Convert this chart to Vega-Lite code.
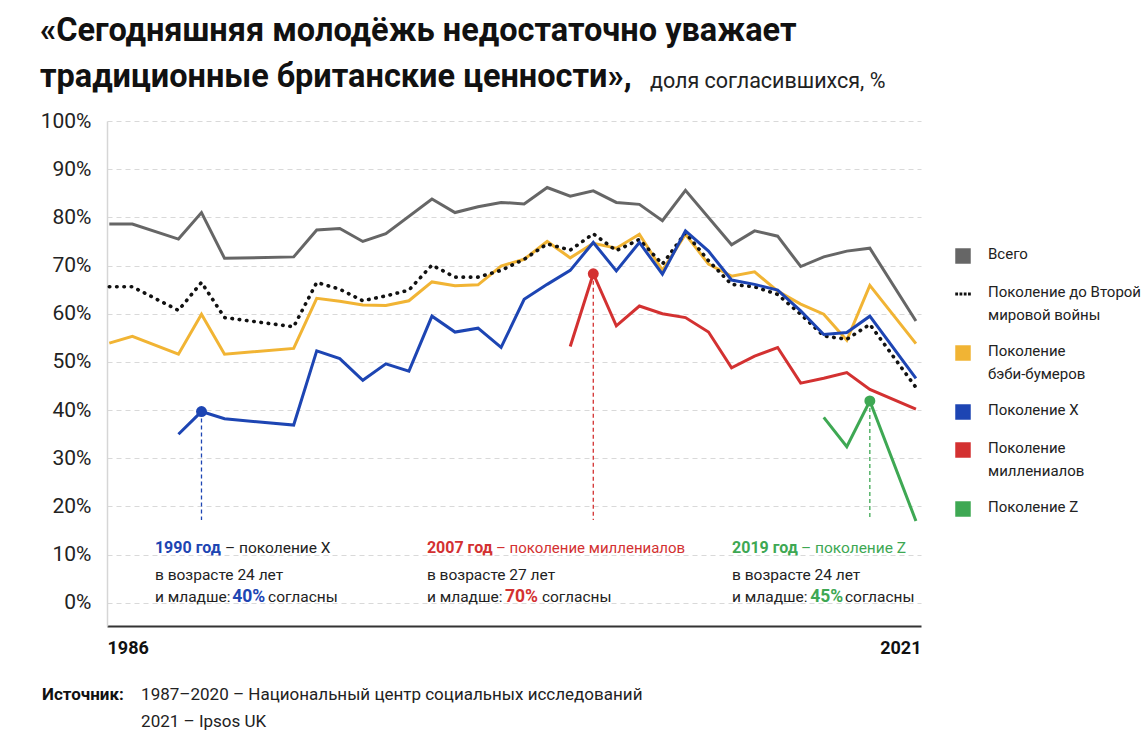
{
  "$schema": "https://vega.github.io/schema/vega-lite/v6.json",
  "width": 814,
  "height": 505,
  "autosize": "none",
  "padding": {"left": 107, "top": 121, "right": 225, "bottom": 129},
  "background": "#ffffff",
  "config": {"view": {"stroke": null}, "font": "Roboto"},
  "title": {
    "text": ["«Сегодняшняя молодёжь недостаточно уважает", "традиционные британские ценности»,"],
    "anchor": "start", "frame": "group",
    "font": "Roboto",
    "fontSize": 32.5, "fontWeight": "bold", "color": "#111111",
    "lineHeight": 46, "dx": -67, "dy": 40, "offset": 17
  },
  "datasets": {
    "series": [
      {"series": "Всего", "year": 1986, "value": 78.6},
      {"series": "Всего", "year": 1987, "value": 78.6},
      {"series": "Всего", "year": 1989, "value": 75.5},
      {"series": "Всего", "year": 1990, "value": 81.0},
      {"series": "Всего", "year": 1991, "value": 71.5},
      {"series": "Всего", "year": 1994, "value": 71.8},
      {"series": "Всего", "year": 1995, "value": 77.4},
      {"series": "Всего", "year": 1996, "value": 77.7},
      {"series": "Всего", "year": 1997, "value": 75.0},
      {"series": "Всего", "year": 1998, "value": 76.6},
      {"series": "Всего", "year": 2000, "value": 83.8},
      {"series": "Всего", "year": 2001, "value": 81.0},
      {"series": "Всего", "year": 2002, "value": 82.2},
      {"series": "Всего", "year": 2003, "value": 83.1},
      {"series": "Всего", "year": 2004, "value": 82.8},
      {"series": "Всего", "year": 2005, "value": 86.2},
      {"series": "Всего", "year": 2006, "value": 84.4},
      {"series": "Всего", "year": 2007, "value": 85.5},
      {"series": "Всего", "year": 2008, "value": 83.1},
      {"series": "Всего", "year": 2009, "value": 82.7},
      {"series": "Всего", "year": 2010, "value": 79.3},
      {"series": "Всего", "year": 2011, "value": 85.6},
      {"series": "Всего", "year": 2013, "value": 74.3},
      {"series": "Всего", "year": 2014, "value": 77.2},
      {"series": "Всего", "year": 2015, "value": 76.1},
      {"series": "Всего", "year": 2016, "value": 69.8},
      {"series": "Всего", "year": 2017, "value": 71.8},
      {"series": "Всего", "year": 2018, "value": 73.0},
      {"series": "Всего", "year": 2019, "value": 73.6},
      {"series": "Всего", "year": 2021, "value": 58.5},

      {"series": "Поколение до Второй мировой войны", "year": 1986, "value": 65.6},
      {"series": "Поколение до Второй мировой войны", "year": 1987, "value": 65.6},
      {"series": "Поколение до Второй мировой войны", "year": 1989, "value": 60.7},
      {"series": "Поколение до Второй мировой войны", "year": 1990, "value": 66.5},
      {"series": "Поколение до Второй мировой войны", "year": 1991, "value": 59.2},
      {"series": "Поколение до Второй мировой войны", "year": 1994, "value": 57.3},
      {"series": "Поколение до Второй мировой войны", "year": 1995, "value": 66.5},
      {"series": "Поколение до Второй мировой войны", "year": 1996, "value": 65.1},
      {"series": "Поколение до Второй мировой войны", "year": 1997, "value": 62.7},
      {"series": "Поколение до Второй мировой войны", "year": 1998, "value": 63.7},
      {"series": "Поколение до Второй мировой войны", "year": 1999, "value": 64.9},
      {"series": "Поколение до Второй мировой войны", "year": 2000, "value": 70.1},
      {"series": "Поколение до Второй мировой войны", "year": 2001, "value": 67.6},
      {"series": "Поколение до Второй мировой войны", "year": 2002, "value": 67.6},
      {"series": "Поколение до Второй мировой войны", "year": 2003, "value": 69.0},
      {"series": "Поколение до Второй мировой войны", "year": 2004, "value": 71.3},
      {"series": "Поколение до Второй мировой войны", "year": 2005, "value": 74.5},
      {"series": "Поколение до Второй мировой войны", "year": 2006, "value": 73.2},
      {"series": "Поколение до Второй мировой войны", "year": 2007, "value": 76.6},
      {"series": "Поколение до Второй мировой войны", "year": 2008, "value": 73.1},
      {"series": "Поколение до Второй мировой войны", "year": 2009, "value": 75.4},
      {"series": "Поколение до Второй мировой войны", "year": 2010, "value": 70.3},
      {"series": "Поколение до Второй мировой войны", "year": 2011, "value": 76.8},
      {"series": "Поколение до Второй мировой войны", "year": 2012, "value": 71.0},
      {"series": "Поколение до Второй мировой войны", "year": 2013, "value": 66.1},
      {"series": "Поколение до Второй мировой войны", "year": 2014, "value": 65.6},
      {"series": "Поколение до Второй мировой войны", "year": 2015, "value": 64.0},
      {"series": "Поколение до Второй мировой войны", "year": 2016, "value": 59.9},
      {"series": "Поколение до Второй мировой войны", "year": 2017, "value": 55.4},
      {"series": "Поколение до Второй мировой войны", "year": 2018, "value": 54.7},
      {"series": "Поколение до Второй мировой войны", "year": 2019, "value": 57.8},
      {"series": "Поколение до Второй мировой войны", "year": 2021, "value": 44.7},

      {"series": "Поколение бэби-бумеров", "year": 1986, "value": 53.9},
      {"series": "Поколение бэби-бумеров", "year": 1987, "value": 55.3},
      {"series": "Поколение бэби-бумеров", "year": 1989, "value": 51.6},
      {"series": "Поколение бэби-бумеров", "year": 1990, "value": 59.9},
      {"series": "Поколение бэби-бумеров", "year": 1991, "value": 51.6},
      {"series": "Поколение бэби-бумеров", "year": 1994, "value": 52.8},
      {"series": "Поколение бэби-бумеров", "year": 1995, "value": 63.2},
      {"series": "Поколение бэби-бумеров", "year": 1996, "value": 62.6},
      {"series": "Поколение бэби-бумеров", "year": 1997, "value": 61.8},
      {"series": "Поколение бэби-бумеров", "year": 1998, "value": 61.7},
      {"series": "Поколение бэби-бумеров", "year": 1999, "value": 62.7},
      {"series": "Поколение бэби-бумеров", "year": 2000, "value": 66.6},
      {"series": "Поколение бэби-бумеров", "year": 2001, "value": 65.8},
      {"series": "Поколение бэби-бумеров", "year": 2002, "value": 66.0},
      {"series": "Поколение бэби-бумеров", "year": 2003, "value": 69.9},
      {"series": "Поколение бэби-бумеров", "year": 2004, "value": 71.3},
      {"series": "Поколение бэби-бумеров", "year": 2005, "value": 75.0},
      {"series": "Поколение бэби-бумеров", "year": 2006, "value": 71.6},
      {"series": "Поколение бэби-бумеров", "year": 2007, "value": 74.6},
      {"series": "Поколение бэби-бумеров", "year": 2008, "value": 73.6},
      {"series": "Поколение бэби-бумеров", "year": 2009, "value": 76.5},
      {"series": "Поколение бэби-бумеров", "year": 2010, "value": 69.0},
      {"series": "Поколение бэби-бумеров", "year": 2011, "value": 76.5},
      {"series": "Поколение бэби-бумеров", "year": 2012, "value": 70.3},
      {"series": "Поколение бэби-бумеров", "year": 2013, "value": 67.8},
      {"series": "Поколение бэби-бумеров", "year": 2014, "value": 68.7},
      {"series": "Поколение бэби-бумеров", "year": 2015, "value": 64.7},
      {"series": "Поколение бэби-бумеров", "year": 2016, "value": 62.0},
      {"series": "Поколение бэби-бумеров", "year": 2017, "value": 59.9},
      {"series": "Поколение бэби-бумеров", "year": 2018, "value": 54.5},
      {"series": "Поколение бэби-бумеров", "year": 2019, "value": 65.9},
      {"series": "Поколение бэби-бумеров", "year": 2021, "value": 53.8},

      {"series": "Поколение X", "year": 1989, "value": 35.0},
      {"series": "Поколение X", "year": 1990, "value": 39.7},
      {"series": "Поколение X", "year": 1991, "value": 38.2},
      {"series": "Поколение X", "year": 1994, "value": 36.9},
      {"series": "Поколение X", "year": 1995, "value": 52.3},
      {"series": "Поколение X", "year": 1996, "value": 50.7},
      {"series": "Поколение X", "year": 1997, "value": 46.2},
      {"series": "Поколение X", "year": 1998, "value": 49.6},
      {"series": "Поколение X", "year": 1999, "value": 48.1},
      {"series": "Поколение X", "year": 2000, "value": 59.5},
      {"series": "Поколение X", "year": 2001, "value": 56.2},
      {"series": "Поколение X", "year": 2002, "value": 57.0},
      {"series": "Поколение X", "year": 2003, "value": 53.0},
      {"series": "Поколение X", "year": 2004, "value": 63.0},
      {"series": "Поколение X", "year": 2005, "value": 66.1},
      {"series": "Поколение X", "year": 2006, "value": 69.0},
      {"series": "Поколение X", "year": 2007, "value": 74.8},
      {"series": "Поколение X", "year": 2008, "value": 68.9},
      {"series": "Поколение X", "year": 2009, "value": 74.8},
      {"series": "Поколение X", "year": 2010, "value": 68.2},
      {"series": "Поколение X", "year": 2011, "value": 77.2},
      {"series": "Поколение X", "year": 2012, "value": 73.0},
      {"series": "Поколение X", "year": 2013, "value": 67.0},
      {"series": "Поколение X", "year": 2014, "value": 66.1},
      {"series": "Поколение X", "year": 2015, "value": 64.9},
      {"series": "Поколение X", "year": 2016, "value": 60.6},
      {"series": "Поколение X", "year": 2017, "value": 55.7},
      {"series": "Поколение X", "year": 2018, "value": 56.1},
      {"series": "Поколение X", "year": 2019, "value": 59.5},
      {"series": "Поколение X", "year": 2021, "value": 46.6},

      {"series": "Поколение миллениалов", "year": 2006, "value": 53.2},
      {"series": "Поколение миллениалов", "year": 2007, "value": 68.3},
      {"series": "Поколение миллениалов", "year": 2008, "value": 57.5},
      {"series": "Поколение миллениалов", "year": 2009, "value": 61.6},
      {"series": "Поколение миллениалов", "year": 2010, "value": 60.0},
      {"series": "Поколение миллениалов", "year": 2011, "value": 59.2},
      {"series": "Поколение миллениалов", "year": 2012, "value": 56.2},
      {"series": "Поколение миллениалов", "year": 2013, "value": 48.8},
      {"series": "Поколение миллениалов", "year": 2014, "value": 51.2},
      {"series": "Поколение миллениалов", "year": 2015, "value": 53.0},
      {"series": "Поколение миллениалов", "year": 2016, "value": 45.6},
      {"series": "Поколение миллениалов", "year": 2017, "value": 46.6},
      {"series": "Поколение миллениалов", "year": 2018, "value": 47.8},
      {"series": "Поколение миллениалов", "year": 2019, "value": 44.3},
      {"series": "Поколение миллениалов", "year": 2021, "value": 40.2},

      {"series": "Поколение Z", "year": 2017, "value": 38.5},
      {"series": "Поколение Z", "year": 2018, "value": 32.4},
      {"series": "Поколение Z", "year": 2019, "value": 41.9},
      {"series": "Поколение Z", "year": 2021, "value": 17.0}
    ],
    "markers": [
      {"series": "Поколение X", "year": 1990, "value": 39.7},
      {"series": "Поколение миллениалов", "year": 2007, "value": 68.3},
      {"series": "Поколение Z", "year": 2019, "value": 41.9}
    ]
  },
  "data": {"name": "series"},
  "layer": [
    {
      "encoding": {
        "x": {
          "field": "year", "type": "quantitative",
          "scale": {"domain": [1985.9, 2021.22], "nice": false, "zero": false},
          "axis": {
            "title": null, "values": [1985.9, 2021.22],
            "labelExpr": "datum.value < 2000 ? '1986' : '2021'",
            "labelFlush": true, "grid": false, "ticks": false,
            "domainColor": "#333333", "domainWidth": 2,
            "labelFont": "Roboto",
            "labelFontSize": 18, "labelFontWeight": "bold", "labelColor": "#111111", "labelPadding": 13
          }
        },
        "y": {
          "field": "value", "type": "quantitative",
          "scale": {"domain": [-4.8, 100], "nice": false, "zero": false},
          "axis": {
            "title": null, "values": [0, 10, 20, 30, 40, 50, 60, 70, 80, 90, 100],
            "labelExpr": "datum.value + '%'",
            "grid": true, "gridDash": [5, 4], "gridColor": "#d9d9d9", "gridWidth": 1,
            "domain": true, "domainColor": "#d6d6d6", "domainWidth": 1.5,
            "ticks": false,
            "labelFont": "Roboto",
            "labelFontSize": 21, "labelColor": "#222222", "labelPadding": 16
          }
        }
      },
      "layer": [
        {
          "transform": [{"filter": "datum.series === 'Всего'"}],
          "mark": {"type": "line", "strokeWidth": 3},
          "encoding": {
            "color": {
              "field": "series", "type": "nominal",
              "scale": {
                "domain": ["Всего", "Поколение до Второй мировой войны", "Поколение бэби-бумеров", "Поколение X", "Поколение миллениалов", "Поколение Z"],
                "range": ["#666666", "#111111", "#f1b434", "#1d45b3", "#d33131", "#3ea853"]
              },
              "legend": {
                "orient": "none", "legendX": 848, "legendY": 127,
                "title": null, "padding": 0,
                "labelFont": "Roboto",
                "labelFontSize": 15, "labelColor": "#222222", "labelOffset": 17, "labelLimit": 300,
                "rowPadding": 21, "symbolSize": 240,
                "labelExpr": "datum.label == 'Поколение до Второй мировой войны' ? ['Поколение до Второй', 'мировой войны'] : datum.label == 'Поколение бэби-бумеров' ? ['Поколение', 'бэби-бумеров'] : datum.label == 'Поколение миллениалов' ? ['Поколение', 'миллениалов'] : datum.label",
                "encode": {
                  "symbols": {"update": {
                    "shape": {"signal": "datum.value === 'Поколение до Второй мировой войны' ? 'M-1,-0.18h0.36v0.36h-0.36zM-0.45,-0.18h0.36v0.36h-0.36zM0.1,-0.18h0.36v0.36h-0.36zM0.65,-0.18h0.36v0.36h-0.36z' : 'square'"},
                    "fill": {"signal": "scale('color', datum.value)"},
                    "stroke": {"value": "transparent"},
                    "strokeWidth": {"value": 0},
                    "size": {"value": 240}
                  }},
                  "labels": {"update": {
                    "baseline": {"value": "top"},
                    "dy": {"value": -9},
                    "lineHeight": {"value": 23}
                  }}
                }
              }
            }
          }
        },
        {
          "transform": [{"filter": "datum.series === 'Поколение бэби-бумеров'"}],
          "mark": {"type": "line", "strokeWidth": 3},
          "encoding": {"color": {"field": "series", "type": "nominal"}}
        },
        {
          "transform": [{"filter": "datum.series === 'Поколение до Второй мировой войны'"}],
          "mark": {"type": "line", "strokeWidth": 3.6, "strokeDash": [0.5, 6.8], "strokeCap": "round"},
          "encoding": {"color": {"field": "series", "type": "nominal"}}
        },
        {
          "transform": [{"filter": "datum.series === 'Поколение X'"}],
          "mark": {"type": "line", "strokeWidth": 3},
          "encoding": {"color": {"field": "series", "type": "nominal"}}
        },
        {
          "transform": [{"filter": "datum.series === 'Поколение миллениалов'"}],
          "mark": {"type": "line", "strokeWidth": 3},
          "encoding": {"color": {"field": "series", "type": "nominal"}}
        },
        {
          "transform": [{"filter": "datum.series === 'Поколение Z'"}],
          "mark": {"type": "line", "strokeWidth": 3},
          "encoding": {"color": {"field": "series", "type": "nominal"}}
        },
        {
          "data": {"name": "markers"},
          "mark": {"type": "rule", "strokeDash": [4, 3], "strokeWidth": 1.3},
          "encoding": {
            "y2": {"datum": 17.2},
            "color": {"field": "series", "type": "nominal"}
          }
        },
        {
          "data": {"name": "markers"},
          "mark": {"type": "point", "filled": true, "opacity": 1, "size": 120},
          "encoding": {"color": {"field": "series", "type": "nominal"}}
        }
      ]
    },
    {
      "data": {"values": [{"label": "1990 год"}]},
      "mark": {"type": "text", "align": "left", "baseline": "middle", "font": "Roboto", "fontSize": 16, "fontWeight": "bold", "color": "#1d45b3"},
      "encoding": {"x": {"datum": 1987.98, "type": "quantitative"}, "y": {"datum": 11.38, "type": "quantitative"}, "text": {"field": "label"}}
    },
    {
      "data": {"values": [{"label": "– поколение X"}]},
      "mark": {"type": "text", "align": "left", "baseline": "middle", "font": "Roboto", "fontSize": 15.5, "color": "#222222"},
      "encoding": {"x": {"datum": 1991.02, "type": "quantitative"}, "y": {"datum": 11.38, "type": "quantitative"}, "text": {"field": "label"}}
    },
    {
      "data": {"values": [{"label": "в возрасте 24 лет"}]},
      "mark": {"type": "text", "align": "left", "baseline": "middle", "font": "Roboto", "fontSize": 15.5, "color": "#222222"},
      "encoding": {"x": {"datum": 1987.98, "type": "quantitative"}, "y": {"datum": 5.78, "type": "quantitative"}, "text": {"field": "label"}}
    },
    {
      "data": {"values": [{"label": "и младше:"}]},
      "mark": {"type": "text", "align": "left", "baseline": "middle", "font": "Roboto", "fontSize": 15.5, "color": "#222222"},
      "encoding": {"x": {"datum": 1987.98, "type": "quantitative"}, "y": {"datum": 1.22, "type": "quantitative"}, "text": {"field": "label"}}
    },
    {
      "data": {"values": [{"label": "40%"}]},
      "mark": {"type": "text", "align": "left", "baseline": "middle", "font": "Roboto", "fontSize": 17.5, "fontWeight": "bold", "color": "#1d45b3"},
      "encoding": {"x": {"datum": 1991.33, "type": "quantitative"}, "y": {"datum": 1.22, "type": "quantitative"}, "text": {"field": "label"}}
    },
    {
      "data": {"values": [{"label": "согласны"}]},
      "mark": {"type": "text", "align": "left", "baseline": "middle", "font": "Roboto", "fontSize": 15.5, "color": "#222222"},
      "encoding": {"x": {"datum": 1992.89, "type": "quantitative"}, "y": {"datum": 1.22, "type": "quantitative"}, "text": {"field": "label"}}
    },
    {
      "data": {"values": [{"label": "2007 год"}]},
      "mark": {"type": "text", "align": "left", "baseline": "middle", "font": "Roboto", "fontSize": 16, "fontWeight": "bold", "color": "#d33131"},
      "encoding": {"x": {"datum": 1999.78, "type": "quantitative"}, "y": {"datum": 11.38, "type": "quantitative"}, "text": {"field": "label"}}
    },
    {
      "data": {"values": [{"label": "– поколение миллениалов"}]},
      "mark": {"type": "text", "align": "left", "baseline": "middle", "font": "Roboto", "fontSize": 15, "color": "#d33131"},
      "encoding": {"x": {"datum": 2002.78, "type": "quantitative"}, "y": {"datum": 11.38, "type": "quantitative"}, "text": {"field": "label"}}
    },
    {
      "data": {"values": [{"label": "в возрасте 27 лет"}]},
      "mark": {"type": "text", "align": "left", "baseline": "middle", "font": "Roboto", "fontSize": 15.5, "color": "#222222"},
      "encoding": {"x": {"datum": 1999.78, "type": "quantitative"}, "y": {"datum": 5.78, "type": "quantitative"}, "text": {"field": "label"}}
    },
    {
      "data": {"values": [{"label": "и младше:"}]},
      "mark": {"type": "text", "align": "left", "baseline": "middle", "font": "Roboto", "fontSize": 15.5, "color": "#222222"},
      "encoding": {"x": {"datum": 1999.78, "type": "quantitative"}, "y": {"datum": 1.22, "type": "quantitative"}, "text": {"field": "label"}}
    },
    {
      "data": {"values": [{"label": "70%"}]},
      "mark": {"type": "text", "align": "left", "baseline": "middle", "font": "Roboto", "fontSize": 17.5, "fontWeight": "bold", "color": "#d33131"},
      "encoding": {"x": {"datum": 2003.17, "type": "quantitative"}, "y": {"datum": 1.22, "type": "quantitative"}, "text": {"field": "label"}}
    },
    {
      "data": {"values": [{"label": "согласны"}]},
      "mark": {"type": "text", "align": "left", "baseline": "middle", "font": "Roboto", "fontSize": 15.5, "color": "#222222"},
      "encoding": {"x": {"datum": 2004.77, "type": "quantitative"}, "y": {"datum": 1.22, "type": "quantitative"}, "text": {"field": "label"}}
    },
    {
      "data": {"values": [{"label": "2019 год"}]},
      "mark": {"type": "text", "align": "left", "baseline": "middle", "font": "Roboto", "fontSize": 16, "fontWeight": "bold", "color": "#3ea853"},
      "encoding": {"x": {"datum": 2013.02, "type": "quantitative"}, "y": {"datum": 11.38, "type": "quantitative"}, "text": {"field": "label"}}
    },
    {
      "data": {"values": [{"label": "– поколение Z"}]},
      "mark": {"type": "text", "align": "left", "baseline": "middle", "font": "Roboto", "fontSize": 15.5, "color": "#3ea853"},
      "encoding": {"x": {"datum": 2016.01, "type": "quantitative"}, "y": {"datum": 11.38, "type": "quantitative"}, "text": {"field": "label"}}
    },
    {
      "data": {"values": [{"label": "в возрасте 24 лет"}]},
      "mark": {"type": "text", "align": "left", "baseline": "middle", "font": "Roboto", "fontSize": 15.5, "color": "#222222"},
      "encoding": {"x": {"datum": 2013.02, "type": "quantitative"}, "y": {"datum": 5.78, "type": "quantitative"}, "text": {"field": "label"}}
    },
    {
      "data": {"values": [{"label": "и младше:"}]},
      "mark": {"type": "text", "align": "left", "baseline": "middle", "font": "Roboto", "fontSize": 15.5, "color": "#222222"},
      "encoding": {"x": {"datum": 2013.02, "type": "quantitative"}, "y": {"datum": 1.22, "type": "quantitative"}, "text": {"field": "label"}}
    },
    {
      "data": {"values": [{"label": "45%"}]},
      "mark": {"type": "text", "align": "left", "baseline": "middle", "font": "Roboto", "fontSize": 17.5, "fontWeight": "bold", "color": "#3ea853"},
      "encoding": {"x": {"datum": 2016.41, "type": "quantitative"}, "y": {"datum": 1.22, "type": "quantitative"}, "text": {"field": "label"}}
    },
    {
      "data": {"values": [{"label": "согласны"}]},
      "mark": {"type": "text", "align": "left", "baseline": "middle", "font": "Roboto", "fontSize": 15.5, "color": "#222222"},
      "encoding": {"x": {"datum": 2017.92, "type": "quantitative"}, "y": {"datum": 1.22, "type": "quantitative"}, "text": {"field": "label"}}
    },
    {
      "data": {"values": [{"label": "доля согласившихся, %"}]},
      "mark": {"type": "text", "align": "left", "baseline": "alphabetic", "font": "Roboto", "fontSize": 21.5, "color": "#222222"},
      "encoding": {"x": {"datum": 2009.46, "type": "quantitative"}, "y": {"datum": 106.85, "type": "quantitative"}, "text": {"field": "label"}}
    },
    {
      "data": {"values": [{"label": "Источник:"}]},
      "mark": {"type": "text", "align": "left", "baseline": "middle", "font": "Roboto", "fontSize": 17, "fontWeight": "bold", "color": "#111111"},
      "encoding": {"x": {"datum": 1983.08, "type": "quantitative"}, "y": {"datum": -19.12, "type": "quantitative"}, "text": {"field": "label"}}
    },
    {
      "data": {"values": [{"label": "1987–2020 – Национальный центр социальных исследований"}]},
      "mark": {"type": "text", "align": "left", "baseline": "middle", "font": "Roboto", "fontSize": 17, "color": "#222222"},
      "encoding": {"x": {"datum": 1987.38, "type": "quantitative"}, "y": {"datum": -19.12, "type": "quantitative"}, "text": {"field": "label"}}
    },
    {
      "data": {"values": [{"label": "2021 – Ipsos UK"}]},
      "mark": {"type": "text", "align": "left", "baseline": "middle", "font": "Roboto", "fontSize": 17, "color": "#222222"},
      "encoding": {"x": {"datum": 1987.38, "type": "quantitative"}, "y": {"datum": -24.73, "type": "quantitative"}, "text": {"field": "label"}}
    }
  ]
}
